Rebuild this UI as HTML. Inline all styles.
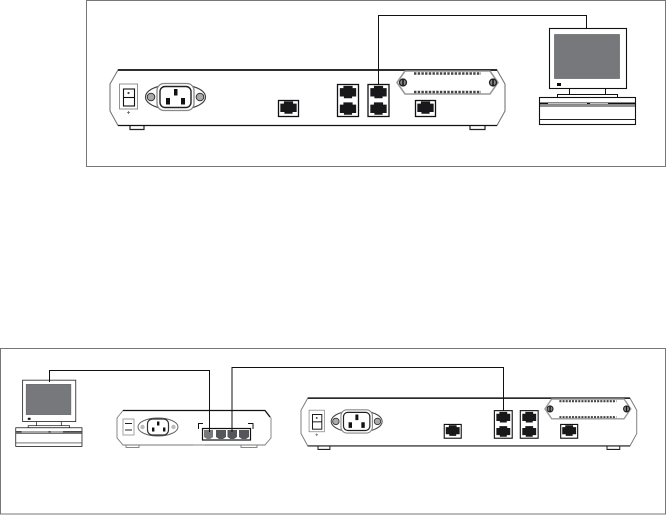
<!DOCTYPE html>
<html>
<head>
<meta charset="utf-8">
<style>html,body{margin:0;padding:0;background:#fff}svg{display:block}</style>
</head>
<body>
<svg width="667" height="515" viewBox="0 0 667 515" xmlns="http://www.w3.org/2000/svg">
<defs>
  <g id="jack"><path d="M-8 -5H-4.500V-7.500H4.500V-5H8V4.500H4V6.500H-4V4.500H-8Z" fill="#18181a"/></g>
  <g id="dual">
    <rect x="0.500" y="0.500" width="21" height="32" fill="#fff" stroke="#111" stroke-width="1.300"/>
    <use href="#jack" transform="translate(11,8.500) scale(1.020,.88)"/>
    <use href="#jack" transform="translate(11,25) scale(1.020,.88)"/>
  </g>
  <g id="single">
    <rect x="0.500" y="0.500" width="20" height="16" fill="#fff" stroke="#111" stroke-width="1.300"/>
    <use href="#jack" transform="translate(10.500,8) scale(1.020,.88)"/>
  </g>
  <g id="device">
    <path d="M130 126V129.500H144V126M470 126V129.500H485V126" fill="#fff" stroke="#222" stroke-width="1.200"/>
    <path d="M118 70H497L505 84V111L497 125.500H118L110 111V84Z" fill="#fff" stroke="#777" stroke-width="1.100"/>
    <path d="M118 70H497" stroke="#111" stroke-width="1.700"/>
    <path d="M118 125.500H497" stroke="#111" stroke-width="1.300"/>
    <rect x="119.500" y="84" width="18" height="25" fill="#fff" stroke="#888" stroke-width=".9"/>
    <rect x="123.500" y="89" width="11" height="17" fill="#fff" stroke="#111" stroke-width="1.100"/>
    <path d="M123.500 97.500H134.500" stroke="#111" stroke-width="1.100"/>
    <circle cx="128.500" cy="93" r="1.100" fill="#444"/>
    <path d="M127 112.500h3M128.500 111v3" stroke="#666" stroke-width=".8"/>
    <ellipse cx="175.500" cy="97" rx="30" ry="13" fill="#fff" stroke="#444" stroke-width="1.200"/>
    <circle cx="151" cy="97" r="3.800" fill="#aaa" stroke="#333" stroke-width="1"/>
    <circle cx="200" cy="97" r="3.800" fill="#aaa" stroke="#333" stroke-width="1"/>
    <rect x="157" y="83.500" width="37" height="27" rx="7" fill="#fff" stroke="#888" stroke-width="1.300"/>
    <rect x="160" y="86.500" width="31" height="21" rx="5" fill="#fff" stroke="#222" stroke-width="1.400"/>
    <rect x="174" y="89" width="3.500" height="6.500" fill="#111"/>
    <rect x="166" y="98" width="4" height="6.500" fill="#111"/>
    <rect x="181" y="98" width="4" height="6.500" fill="#111"/>
    <use href="#single" x="278" y="100"/>
    <use href="#dual" x="337" y="84"/>
    <use href="#dual" x="367.500" y="84"/>
    <use href="#single" x="415" y="100"/>
    <path d="M405 71H490L498 82.500L490 94H405L397 82.500Z" fill="#fff" stroke="#999" stroke-width="1.600"/>
    <path d="M414 73.500H481M414 92H481" stroke="#444" stroke-width="2.400" stroke-dasharray="2.400 1.300"/>
    <circle cx="403" cy="82.500" r="3.500" fill="#888" stroke="#222" stroke-width="1.300"/>
    <path d="M403 79.500V85.500" stroke="#111" stroke-width="1.500"/>
    <circle cx="493" cy="82.500" r="3.500" fill="#888" stroke="#222" stroke-width="1.300"/>
    <path d="M493 79.500V85.500" stroke="#111" stroke-width="1.500"/>
  </g>
  <g id="pc">
    <rect x="549.500" y="28.500" width="77" height="60" fill="#fff" stroke="#111" stroke-width="1.100"/>
    <rect x="554.500" y="34.500" width="65" height="44" fill="#77787c" stroke="#555" stroke-width=".6"/>
    <rect x="557" y="83" width="4" height="3" fill="#111"/>
    <path d="M569.500 88.500V94.500M605.500 88.500V94.500" stroke="#111" fill="none"/>
    <rect x="557.500" y="94.500" width="60" height="3" fill="#fff" stroke="#111" stroke-width="1"/>
    <rect x="539.500" y="97.500" width="96" height="27" fill="#fff" stroke="#111" stroke-width="1.100"/>
    <path d="M540 103.500H635" stroke="#111" stroke-width="2"/>
    <path d="M548 103.500H587M590 103.500H608" stroke="#fff" stroke-width=".8"/>
    <path d="M540 106H635M540 119.500H635" stroke="#222" stroke-width=".9"/>
  </g>
</defs>

<rect width="667" height="515" fill="#fff"/>

<!-- top frame -->
<rect x="86.500" y="0.500" width="579" height="166" fill="#fff" stroke="#777" stroke-width="1"/>
<use href="#device"/>
<use href="#pc"/>
<path d="M378.500 85V15.500H586.500V28" fill="none" stroke="#111" stroke-width="1"/>

<!-- bottom frame -->
<rect x="0.500" y="348.500" width="665" height="165.500" fill="#fff" stroke="#777" stroke-width="1"/>
<use href="#pc" transform="translate(-356.500,360.500) scale(.69,.69)"/>

<!-- small device -->
<path d="M126 445V447.500H139V445M241 445V447.500H257V445" fill="#fff" stroke="#888" stroke-width="1"/>
<path d="M123 410.500H265L271 418V438L265 445H123L117 438V418Z" fill="#fff" stroke="#888" stroke-width="1"/>
<path d="M123 410.500H265L270 417" fill="none" stroke="#111" stroke-width="1.300"/>
<path d="M123 445H193M205 445H265" stroke="#777" stroke-width="1.100"/>
<rect x="123" y="419" width="11" height="16" fill="#fff" stroke="#999" stroke-width=".9"/>
<path d="M125 423.500H132M125 430H132" stroke="#222" stroke-width="1"/>
<ellipse cx="158" cy="427" rx="20" ry="9" fill="#fff" stroke="#666" stroke-width="1"/>
<circle cx="142.500" cy="427" r="2.200" fill="#bbb"/>
<circle cx="173.500" cy="427" r="2.200" fill="#bbb"/>
<rect x="147.500" y="419" width="21" height="16" rx="5" fill="#fff" stroke="#333" stroke-width="1.200"/>
<rect x="157" y="421.500" width="2.400" height="4" fill="#111"/>
<rect x="152" y="427.500" width="2.400" height="4" fill="#111"/>
<rect x="163" y="427.500" width="2.400" height="4" fill="#111"/>
<path d="M198.500 429V423.500H203M248 423.500H253V429" fill="none" stroke="#111" stroke-width="1"/>
<rect x="202.500" y="428.500" width="48" height="11.500" fill="#fff" stroke="#111" stroke-width="1.200"/>
<g fill="#55565a">
  <path d="M204 430H213V437L210 439H207L204 437Z" fill="#77787c"/>
  <path d="M216 430H226V437L223 439H219L216 437Z"/>
  <path d="M227.500 430H237V437L234 439H230.500L227.500 437Z"/>
  <path d="M239 430H249V437L246 439H242L239 437Z"/>
</g>
<path d="M49.500 382V370.500H209.500V432" fill="none" stroke="#111" stroke-width="1"/>
<path d="M232 432V367.500H503.500V411" fill="none" stroke="#111" stroke-width="1"/>

<!-- large device -->
<g transform="translate(207.500,337.800) scale(.85,.862)">
  <use href="#device"/>
</g>
<path d="M503.500 398V411" stroke="#111" stroke-width="1"/>
</svg>
</body>
</html>
